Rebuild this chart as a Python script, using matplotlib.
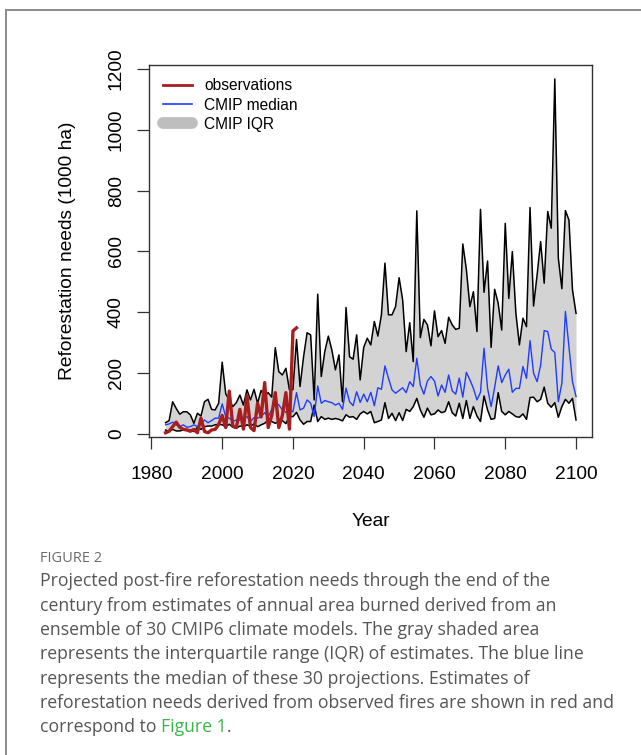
import numpy as np
import matplotlib
matplotlib.use("Agg")
import matplotlib.pyplot as plt
from matplotlib.lines import Line2D

# projection years and observed years
years = np.arange(1984, 2101)
obs_years = np.arange(1984, 2022)

# CMIP IQR upper bound (1000 ha)
iqr_upper = [36, 43, 105, 83, 64, 72, 72, 62, 34, 67,
             58, 105, 113, 80, 78, 100, 235, 131, 111, 89,
             102, 127, 94, 144, 111, 146, 100, 142, 124, 135,
             120, 283, 204, 193, 215, 144, 145, 310, 155, 253,
             332, 325, 111, 459, 188, 270, 321, 275, 210, 259,
             105, 415, 253, 245, 325, 177, 284, 314, 292, 369,
             321, 391, 561, 391, 391, 418, 513, 440, 270, 365,
             237, 733, 316, 376, 358, 289, 404, 319, 339, 297,
             383, 358, 343, 347, 624, 541, 418, 467, 336, 738,
             465, 568, 284, 475, 429, 341, 692, 445, 599, 396,
             292, 380, 352, 744, 420, 522, 632, 495, 731, 676,
             1167, 577, 477, 734, 703, 473, 396]

# CMIP median
cmip_median = [29, 32, 38, 29, 23, 29, 21, 23, 29, 23,
               34, 45, 36, 43, 51, 51, 98, 56, 51, 40,
               45, 45, 51, 56, 40, 53, 51, 56, 69, 55,
               80, 100, 95, 78, 70, 78, 72, 135, 78, 84,
               111, 100, 56, 157, 100, 109, 105, 102, 94, 100,
               80, 150, 105, 92, 138, 103, 130, 105, 136, 92,
               151, 146, 223, 182, 144, 133, 142, 151, 135, 171,
               155, 248, 160, 130, 173, 188, 173, 124, 160, 136,
               193, 141, 130, 183, 120, 202, 177, 149, 111, 136,
               281, 149, 89, 152, 223, 168, 193, 212, 136, 149,
               149, 221, 182, 306, 199, 171, 226, 339, 336, 278,
               267, 105, 166, 402, 286, 171, 122]

# CMIP IQR lower bound
iqr_lower = [12, 7, 14, 9, 9, 12, 14, 12, 7, 21,
             14, 23, 25, 25, 29, 31, 29, 23, 31, 21,
             18, 25, 23, 29, 25, 32, 23, 29, 34, 45,
             40, 34, 40, 43, 33, 56, 56, 70, 45, 31,
             40, 40, 94, 40, 56, 47, 51, 47, 50, 47,
             42, 62, 54, 56, 47, 65, 73, 65, 73, 36,
             40, 45, 102, 50, 67, 43, 69, 43, 80, 73,
             89, 116, 78, 54, 84, 62, 65, 78, 69, 73,
             105, 69, 58, 100, 50, 109, 50, 89, 58, 40,
             124, 78, 47, 50, 135, 73, 62, 73, 65, 56,
             54, 65, 47, 119, 120, 105, 113, 153, 100, 87,
             102, 54, 89, 113, 100, 116, 45]

# reforestation needs from observed fires
observations = [3, 8, 23, 38, 21, 14, 12, 8, 14, 3,
                51, 7, 3, 12, 14, 30, 60, 20, 140, 25,
                20, 80, 15, 125, 20, 10, 100, 55, 168, 20,
                60, 135, 20, 60, 135, 15, 338, 348]

legend_labels = ["observations", "CMIP median", "CMIP IQR"]

caption_lines = [
    "Projected post-fire reforestation needs through the end of the",
    "century from estimates of annual area burned derived from an",
    "ensemble of 30 CMIP6 climate models. The gray shaded area",
    "represents the interquartile range (IQR) of estimates. The blue line",
    "represents the median of these 30 projections. Estimates of",
    "reforestation needs derived from observed fires are shown in red and",
]

RED = "#a81e1e"
BLUE = "#1f3cff"

plt.rcParams['font.family'] = ['Liberation Sans', 'DejaVu Sans']

W, H = 641, 755
fig = plt.figure(figsize=(W / 100, H / 100), dpi=100)

ax = fig.add_axes([149.3 / W, 1 - 437.3 / H, 443.0 / W, 372.6 / H])
ax.fill_between(years, iqr_lower, iqr_upper, color="#d3d3d3", lw=0)
ax.plot(years, iqr_upper, color="black", lw=1.1)
ax.plot(years, iqr_lower, color="black", lw=1.1)
ax.plot(years, cmip_median, color=BLUE, lw=1.0)
ax.plot(obs_years, observations, color=RED, lw=2.4)

ax.set_xlim(1979.4, 2104.6)
ax.set_ylim(-12, 1214)
ax.set_xticks(range(1980, 2101, 20))
ax.set_yticks(range(0, 1201, 200))
for s in ax.spines.values():
    s.set_linewidth(1.0)
    s.set_color("#333333")
ax.tick_params(direction="out", length=8.5, width=0.9, labelsize=13.8, color="#333333")
ax.tick_params(axis="x", pad=12.5)
ax.tick_params(axis="y", pad=9, labelrotation=90)
for lbl in ax.get_yticklabels():
    lbl.set_va("center")

fig.text(68 / W, 1 - 251 / H, "Reforestation needs (1000 ha)", rotation=90,
         ha="center", va="center", fontsize=13.8)
fig.text(370.8 / W, 1 - 521 / H, "Year", ha="center", va="center", fontsize=13.8)

handles = [Line2D([], [], color=RED, lw=2.0),
           Line2D([], [], color=BLUE, lw=1.2),
           Line2D([], [], color="#bebebe", lw=8.5, solid_capstyle="round")]
ax.legend(handles, legend_labels, loc="upper left", bbox_to_anchor=(0.031, 0.963),
          frameon=False, fontsize=11.2, handlelength=1.85, handletextpad=0.8,
          labelspacing=0.26, borderaxespad=0, borderpad=0)

# page frame
fig.add_artist(Line2D([6 / W, 1], [1 - 10 / H, 1 - 10 / H], transform=fig.transFigure,
                      color="#8c8c8c", lw=1.4))
fig.add_artist(Line2D([6 / W, 6 / W], [0, 1 - 10 / H], transform=fig.transFigure,
                      color="#8c8c8c", lw=1.4))

# caption
cap_font = ['Open Sans', 'DejaVu Sans']
cap_size = 12.7
fig.text(40 / W, 1 - 559 / H, "FIGURE 2", ha="left", va="center", fontsize=10.5,
         color="#6b6b6b", family=cap_font)
y0 = 581.5
dy = 24.3
for i, line in enumerate(caption_lines):
    fig.text(40 / W, 1 - (y0 + dy * i) / H, line, ha="left", va="center",
             fontsize=cap_size, color="#555555", family=cap_font)
ylast = 1 - (y0 + dy * len(caption_lines)) / H
t1 = fig.text(40 / W, ylast, "correspond to ", ha="left", va="center",
              fontsize=cap_size, color="#555555", family=cap_font)
r = fig.canvas.get_renderer()
bb = t1.get_window_extent(r)
t2 = fig.text(bb.x1 / W, ylast, "Figure 1", ha="left", va="center",
              fontsize=cap_size, color="#3cb44b", family=cap_font)
bb2 = t2.get_window_extent(r)
fig.text(bb2.x1 / W, ylast, ".", ha="left", va="center",
         fontsize=cap_size, color="#555555", family=cap_font)

fig.savefig("out.png", dpi=100)
